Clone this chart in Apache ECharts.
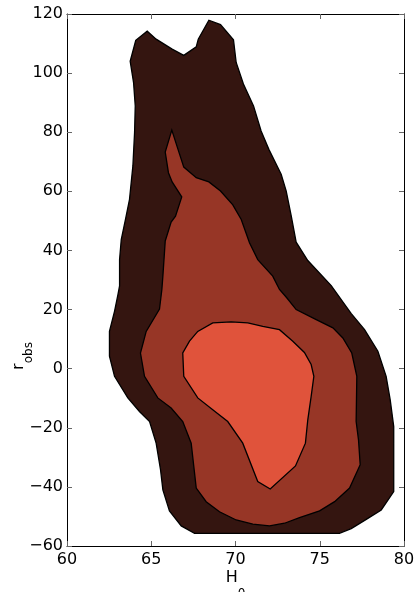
<!DOCTYPE html>
<html>
<head>
<meta charset="utf-8">
<script src="https://cdn.jsdelivr.net/npm/echarts@6/dist/echarts.min.js"></script>
<style>
html,body{margin:0;padding:0;background:#fff;}
#chart{width:416px;height:592px;}
</style>
</head>
<body>
<div id="chart"></div>
<script>
// H0 ticks and r_obs ticks
const xTicks = [60, 65, 70, 75, 80];
const yTicks = [-60, -40, -20, 0, 20, 40, 60, 80, 100, 120];

// Outer (widest) credible region contour: [H0, r_obs]
const outerContour = [[63.75,104.0],[64.08,111.1],[64.76,114.2],[65.29,111.5],[66.24,108.1],[66.93,106.0],[67.67,108.9],[67.79,111.5],[68.42,117.9],[69.11,116.4],[69.88,111.3],[70.04,103.6],[70.47,96.3],[71.07,88.9],[71.52,80.4],[71.98,74.2],[72.71,65.8],[73.01,60.1],[73.31,51.6],[73.60,42.8],[74.29,36.6],[75.68,28.1],[76.87,18.6],[77.66,13.2],[78.45,5.9],[78.94,-2.6],[79.18,-10.5],[79.39,-19.6],[79.39,-41.6],[78.65,-47.8],[77.76,-51.0],[76.87,-54.1],[76.17,-55.7],[67.57,-55.7],[66.78,-53.2],[66.08,-48.1],[65.69,-41.0],[65.55,-34.2],[65.29,-25.2],[64.90,-17.9],[64.30,-14.5],[63.61,-9.9],[62.82,-2.6],[62.52,4.2],[62.52,12.6],[62.82,19.4],[63.02,25.0],[63.12,28.0],[63.12,36.9],[63.22,43.7],[63.47,50.5],[63.71,57.3],[63.91,68.6],[64.01,79.9],[64.05,88.9],[63.95,96.8]];

// Middle credible region contour
const middleContour = [[66.22,80.7],[66.93,68.2],[67.67,64.6],[68.42,63.2],[69.11,60.1],[69.84,55.4],[70.34,50.5],[70.83,42.6],[71.32,36.9],[72.21,31.3],[72.61,26.8],[73.04,24.0],[73.60,20.0],[74.79,16.6],[75.78,13.8],[76.37,10.4],[76.90,5.3],[77.20,-2.6],[77.16,-17.9],[77.30,-24.1],[77.40,-32.5],[76.77,-40.4],[75.88,-45.0],[74.99,-48.1],[73.80,-50.4],[72.91,-52.3],[72.02,-53.2],[71.03,-52.6],[70.04,-51.2],[69.05,-48.4],[68.26,-45.0],[67.67,-40.4],[67.37,-25.2],[66.87,-17.9],[66.18,-13.3],[65.39,-9.9],[64.60,-2.6],[64.36,5.3],[64.70,12.6],[65.49,20.2],[65.63,26.8],[65.69,31.3],[65.83,43.2],[66.18,49.6],[66.44,51.6],[66.81,58.1],[66.24,63.2],[66.02,66.3],[65.83,73.3]];

// Inner credible region contour
const innerContour = [[66.87,5.3],[66.93,-2.6],[67.76,-9.9],[68.65,-13.9],[69.54,-17.9],[70.43,-25.2],[71.32,-38.2],[72.06,-40.7],[73.56,-32.9],[74.15,-25.2],[74.29,-17.3],[74.49,-9.4],[74.65,-2.6],[74.49,1.4],[74.09,5.5],[73.40,9.3],[72.61,13.2],[71.62,14.3],[70.73,15.5],[69.74,15.8],[68.65,15.5],[67.76,12.6],[67.27,9.3]];

const FONT = 'DejaVu Sans';
const fmt = v => (v < 0 ? '\u2212' + (-v) : String(v));

function contourSeries(points, color) {
  return {
    type: 'custom',
    coordinateSystem: 'cartesian2d',
    xAxisIndex: 0,
    yAxisIndex: 0,
    clip: true,
    silent: true,
    data: points,
    renderItem: function (params, api) {
      if (params.dataIndex !== 0) return null;
      const pts = points.map(p => api.coord(p));
      return {
        type: 'polygon',
        shape: { points: pts },
        style: { fill: color, stroke: '#000', lineWidth: 1.3 }
      };
    }
  };
}

const tickStyle = { show: true, inside: true, length: 5, lineStyle: { color: '#666', width: 1 } };
const lineStyle = { show: true, onZero: false, lineStyle: { color: '#000', width: 1 } };
const labelStyle = { fontFamily: FONT, fontSize: 16, color: '#000', formatter: fmt };

const chart = echarts.init(document.getElementById('chart'), null, { renderer: 'canvas' });
chart.setOption({
  animation: false,
  backgroundColor: '#fff',
  grid: { left: 67, right: 12, top: 14, bottom: 46, containLabel: false, outerBoundsMode: 'none' },
  xAxis: [
    {
      type: 'value', min: xTicks[0], max: xTicks[xTicks.length - 1], interval: 5,
      position: 'bottom',
      axisLine: lineStyle, axisTick: tickStyle,
      axisLabel: Object.assign({ margin: 6 }, labelStyle),
      splitLine: { show: false },
      name: '{m|H}{s|0}', nameLocation: 'middle', nameGap: 10, nameMoveOverlap: false,
      nameTextStyle: {
        rich: {
          m: { fontFamily: FONT, fontSize: 16, color: '#000', lineHeight: 44 },
          s: { fontFamily: FONT, fontSize: 12, color: '#000', lineHeight: 12, verticalAlign: 'bottom' }
        }
      }
    },
    {
      type: 'value', min: xTicks[0], max: xTicks[xTicks.length - 1], interval: 5,
      position: 'top',
      axisLine: lineStyle, axisTick: tickStyle,
      axisLabel: { show: false }, splitLine: { show: false }
    }
  ],
  yAxis: [
    {
      type: 'value', min: yTicks[0], max: yTicks[yTicks.length - 1], interval: 20,
      position: 'left',
      axisLine: lineStyle, axisTick: tickStyle,
      axisLabel: Object.assign({ margin: 4 }, labelStyle),
      splitLine: { show: false },
      name: '{m|r}{s|obs}', nameLocation: 'middle', nameGap: 32, nameRotate: 90, nameMoveOverlap: false,
      nameTextStyle: {
        padding: [0, 152, 0, 0],
        rich: {
          m: { fontFamily: FONT, fontSize: 16, color: '#000', lineHeight: 33 },
          s: { fontFamily: FONT, fontSize: 12, color: '#000', lineHeight: 12, verticalAlign: 'bottom' }
        }
      }
    },
    {
      type: 'value', min: yTicks[0], max: yTicks[yTicks.length - 1], interval: 20,
      position: 'right',
      axisLine: lineStyle, axisTick: tickStyle,
      axisLabel: { show: false }, splitLine: { show: false }
    }
  ],
  series: [
    contourSeries(outerContour, '#341510'),
    contourSeries(middleContour, '#973626'),
    contourSeries(innerContour, '#e0533b')
  ]
});
</script>
</body>
</html>
